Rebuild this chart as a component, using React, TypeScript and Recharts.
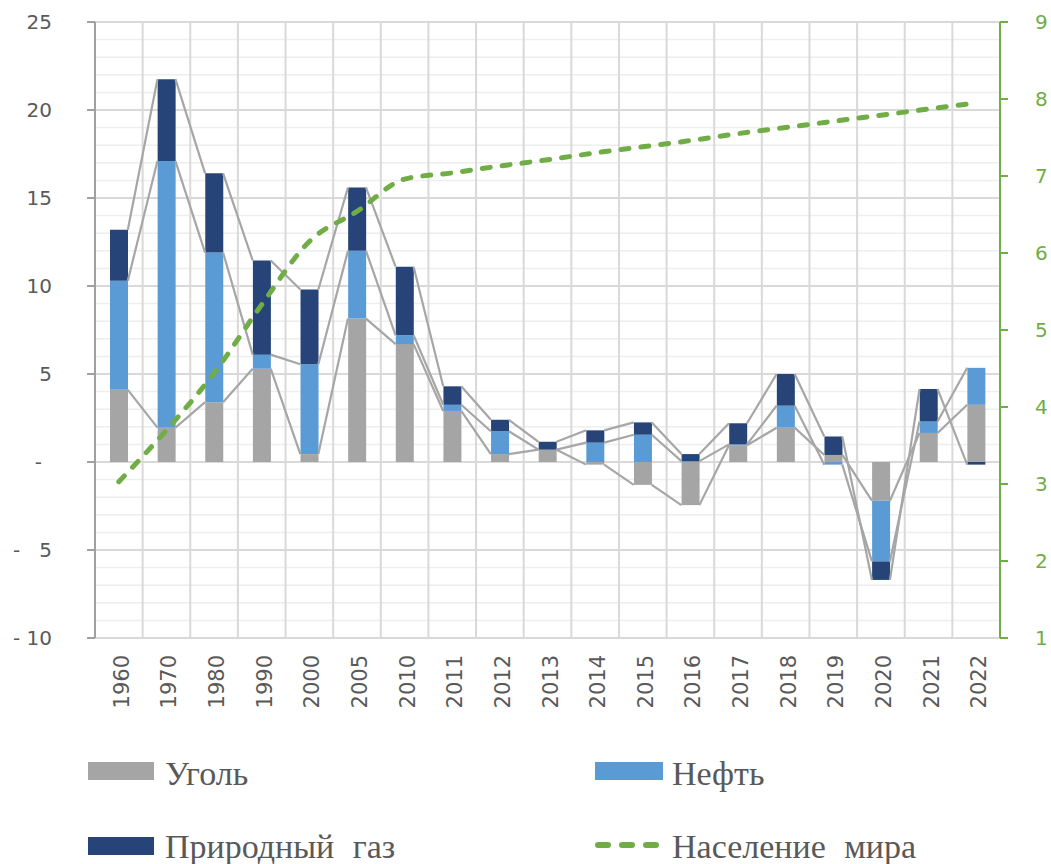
import { ComposedChart, Bar, Line, XAxis, YAxis, ReferenceLine } from 'recharts';

// убираем отступ body, чтобы график занял всё окно
if (typeof document !== 'undefined') document.body.style.margin = '0';

// годы (категории)
const years = ['1960', '1970', '1980', '1990', '2000', '2005', '2010', '2011', '2012', '2013', '2014', '2015', '2016', '2017', '2018', '2019', '2020', '2021', '2022'];

// прирост потребления по видам топлива (левая ось)
const coal = [4.1, 1.95, 3.4, 5.3, 0.45, 8.15, 6.7, 2.9, 0.45, 0.7, -0.15, -1.3, -2.45, 0.95, 1.95, 0.4, -2.2, 1.65, 3.25];
const oil = [6.2, 15.15, 8.5, 0.8, 5.1, 3.85, 0.5, 0.35, 1.3, 0, 1.1, 1.55, 0.05, 0.05, 1.25, -0.15, -3.45, 0.65, 2.1];
const gas = [2.9, 4.65, 4.5, 5.35, 4.25, 3.6, 3.9, 1.05, 0.65, 0.45, 0.7, 0.7, 0.4, 1.2, 1.8, 1.05, -1.05, 1.85, -0.15];

// население мира, млрд (правая ось)
const population = [3.03, 3.7, 4.44, 5.33, 6.15, 6.54, 6.96, 7.04, 7.13, 7.21, 7.3, 7.38, 7.46, 7.55, 7.63, 7.71, 7.79, 7.87, 7.95];

const leftTicks = [-10, -5, 0, 5, 10, 15, 20, 25];
const rightTicks = [1, 2, 3, 4, 5, 6, 7, 8, 9];
const gridSteps = Array.from({ length: 36 }, (_, i) => i - 10);

const COLORS = { coal: '#a5a5a5', oil: '#5b9bd5', gas: '#264478', pop: '#70ad47', axis: '#595959' };
const BAR_SIZE = 18;
const HALF = BAR_SIZE / 2;

// концы сегментов (как в Excel при stackOffset "sign") — для соединительных линий
const data = years.map((year, i) => {
    let pos = 0;
    let neg = 0;
    const end = (v: number) => (v < 0 ? (neg += v) : (pos += v));
    return {
        year,
        coal: coal[i],
        oil: oil[i],
        gas: gas[i],
        pop: population[i],
        coalEnd: end(coal[i]),
        oilEnd: end(oil[i]),
        gasEnd: end(gas[i]),
    };
});

// линии рядов: от правого края столбца к левому краю следующего
const seriesCurve = (ctx: any) => {
    let prev: [number, number] | null = null;
    return {
        areaStart() {},
        areaEnd() {},
        lineStart() { prev = null; },
        lineEnd() {},
        point(x: number, y: number) {
            if (prev) {
                ctx.moveTo(prev[0] + HALF, prev[1]);
                ctx.lineTo(x - HALF, y);
            }
            prev = [x, y];
        },
    };
};

const tickFont = { fontFamily: 'DejaVu Sans', fontSize: 20, fill: COLORS.axis };

const LeftTick = (props: any) => {
    const { x, y, payload } = props;
    const v = payload.value;
    if (v === 0) return <text x={x - 10} y={y} dy="0.35em" textAnchor="end" {...tickFont}>-</text>;
    if (v < 0) {
        return (
            <g>
                <text x={x - 39} y={y} dy="0.35em" {...tickFont}>-</text>
                <text x={x} y={y} dy="0.35em" textAnchor="end" {...tickFont}>{Math.abs(v)}</text>
            </g>
        );
    }
    return <text x={x} y={y} dy="0.35em" textAnchor="end" {...tickFont}>{v}</text>;
};

const YearTick = (props: any) => {
    const { x, y, payload } = props;
    return (
        <text transform={`translate(${x + 3},${y}) rotate(-90)`} textAnchor="end" dominantBaseline="central" {...tickFont} fontSize={21}>
            {payload.value}
        </text>
    );
};

const legendFont = { fontFamily: 'Liberation Serif', fontSize: 34, fill: COLORS.axis, wordSpacing: 10 };

export default function App() {
    return (
        <div style={{ position: 'relative', width: 1051, height: 864, background: '#fff', overflow: 'hidden' }}>
            <ComposedChart width={1051} height={728} data={data} stackOffset="sign" margin={{ top: 22, right: 0, bottom: 0, left: 8 }}>
                {gridSteps.map((v) => (
                    <ReferenceLine key={`h${v}`} yAxisId="left" y={v} stroke={v % 5 === 0 ? '#d9d9d9' : '#eeeeee'} strokeWidth={v % 5 === 0 ? 2 : 1.5} zIndex={-100} />
                ))}
                {years.slice(1).map((yr) => (
                    <ReferenceLine key={`v${yr}`} yAxisId="left" x={yr} position="start" stroke="#d9d9d9" strokeWidth={2} zIndex={-100} />
                ))}

                <XAxis dataKey="year" height={90} axisLine={false} tickLine={false} tickSize={0} tickMargin={17} interval={0} tick={<YearTick />} />
                <YAxis yAxisId="left" width={87} domain={[-10, 25]} ticks={leftTicks} interval={0}
                    axisLine={{ stroke: '#a0a0a0', strokeWidth: 2 }} tickLine={{ stroke: '#a0a0a0', strokeWidth: 2 }} tickSize={8} tickMargin={35} tick={<LeftTick />} />
                <YAxis yAxisId="right" orientation="right" width={51} domain={[1, 9]} ticks={rightTicks} interval={0}
                    axisLine={{ stroke: COLORS.pop, strokeWidth: 2 }} tickLine={{ stroke: COLORS.pop, strokeWidth: 2 }} tickSize={8} tickMargin={27}
                    tick={{ ...tickFont, fill: COLORS.pop }} />

                <Bar yAxisId="left" dataKey="coal" stackId="fuel" fill={COLORS.coal} barSize={BAR_SIZE} isAnimationActive={false} />
                <Bar yAxisId="left" dataKey="oil" stackId="fuel" fill={COLORS.oil} barSize={BAR_SIZE} isAnimationActive={false} />
                <Bar yAxisId="left" dataKey="gas" stackId="fuel" fill={COLORS.gas} barSize={BAR_SIZE} isAnimationActive={false} />

                {['coalEnd', 'oilEnd', 'gasEnd'].map((k) => (
                    <Line key={k} yAxisId="left" dataKey={k} type={seriesCurve as any} stroke="#a6a6a6" strokeWidth={2.2}
                        dot={false} activeDot={false} legendType="none" isAnimationActive={false} />
                ))}

                <Line yAxisId="right" dataKey="pop" type="monotone" stroke={COLORS.pop} strokeWidth={5} strokeDasharray="8 12" strokeLinecap="round"
                    dot={false} activeDot={false} isAnimationActive={false} />
            </ComposedChart>

            {/* легенда */}
            <svg width={1051} height={136} style={{ position: 'absolute', left: 0, top: 728 }}>
                <rect x={88} y={34} width={66} height={18} fill={COLORS.coal} />
                <text x={165} y={57} {...legendFont}>Уголь</text>
                <rect x={595} y={34} width={68} height={18} fill={COLORS.oil} />
                <text x={672} y={57} {...legendFont}>Нефть</text>
                <rect x={88} y={109} width={66} height={18} fill={COLORS.gas} />
                <text x={165} y={130} {...legendFont}>Природный газ</text>
                <line x1={598} y1={117} x2={662} y2={117} stroke={COLORS.pop} strokeWidth={6} strokeDasharray="10 14" strokeLinecap="round" />
                <text x={672} y={130} {...legendFont}>Население мира</text>
            </svg>
        </div>
    );
}
